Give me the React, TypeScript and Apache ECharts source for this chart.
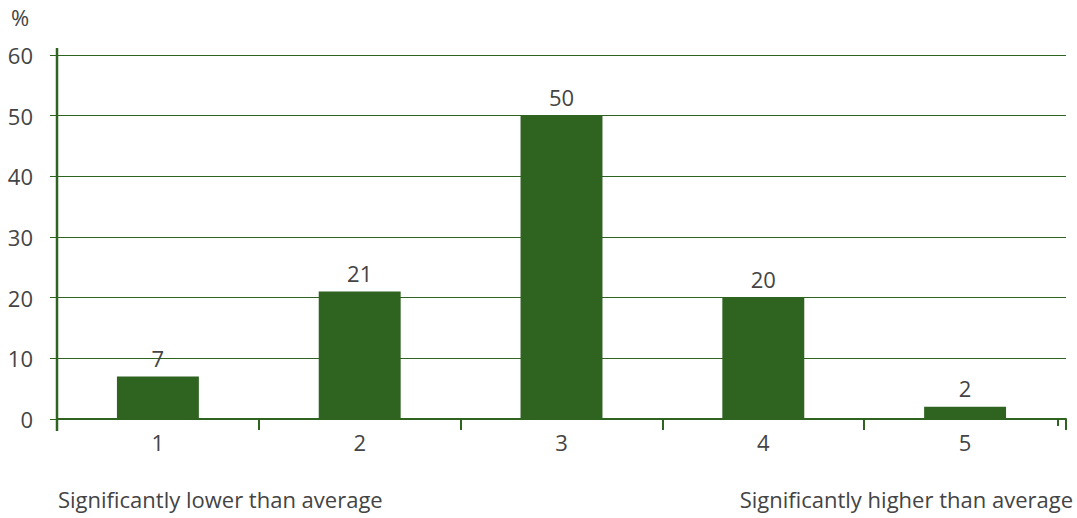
import React, { useEffect, useRef } from "react";
import * as echarts from "echarts";

const categories = ["1", "2", "3", "4", "5"];
const values = [7, 21, 50, 20, 2];
const yTicks = [0, 10, 20, 30, 40, 50, 60];
const unitLabel = "%";
const leftNote = "Significantly lower than average";
const rightNote = "Significantly higher than average";

const GREEN = "#2f6320";
const TEXT = "#444444";
const FONT = "'Open Sans', 'Noto Sans', sans-serif";
const FS = 22;

export default function App() {
  const ref = useRef<HTMLDivElement>(null);
  useEffect(() => {
    if (!ref.current) return;
    const chart = echarts.init(ref.current, undefined, { renderer: "svg" });
    chart.setOption({
      animation: false,
      textStyle: { fontFamily: FONT },
      grid: { left: 57, right: 11, top: 55, bottom: 99, containLabel: false },
      xAxis: {
        type: "category",
        data: categories,
        axisLine: { show: true, lineStyle: { color: GREEN, width: 2 } },
        axisTick: { show: true, length: 11, lineStyle: { color: GREEN, width: 2 } },
        axisLabel: { color: TEXT, fontSize: FS, margin: 12, fontFamily: FONT },
        splitLine: { show: false },
      },
      yAxis: {
        type: "value",
        min: yTicks[0],
        max: yTicks[yTicks.length - 1],
        interval: 10,
        axisLine: { show: false },
        axisTick: { show: true, length: 7, lineStyle: { color: GREEN, width: 1 } },
        axisLabel: { color: TEXT, fontSize: FS, margin: 24, fontFamily: FONT },
        splitLine: { show: true, lineStyle: { color: GREEN, width: 1 } },
      },
      graphic: [
        {
          type: "line",
          shape: { x1: 57, y1: 48, x2: 57, y2: 431 },
          style: { stroke: GREEN, lineWidth: 2.5 },
          z: 10,
        },
        {
          type: "line",
          shape: { x1: 1058, y1: 419, x2: 1058, y2: 426 },
          style: { stroke: GREEN, lineWidth: 2 },
          z: 10,
        },
        {
          type: "text",
          left: 11,
          top: 6,
          style: { text: unitLabel, fill: TEXT, fontSize: FS, fontFamily: FONT },
        },
        {
          type: "text",
          left: 58,
          top: 488,
          style: { text: leftNote, fill: TEXT, fontSize: FS, fontFamily: FONT },
        },
        {
          type: "text",
          right: 4,
          top: 488,
          style: { text: rightNote, fill: TEXT, fontSize: FS, fontFamily: FONT },
        },
      ],
      series: [
        {
          type: "bar",
          data: values,
          barWidth: "40.6%",
          itemStyle: { color: GREEN },
          z: 5,
          label: {
            show: true,
            position: "top",
            distance: 8,
            color: TEXT,
            fontSize: FS,
            fontFamily: FONT,
          },
        },
      ],
    });
    return () => chart.dispose();
  }, []);
  return (
    <div
      ref={ref}
      style={{ position: "absolute", left: 0, top: 0, width: 1077, height: 518 }}
    />
  );
}
